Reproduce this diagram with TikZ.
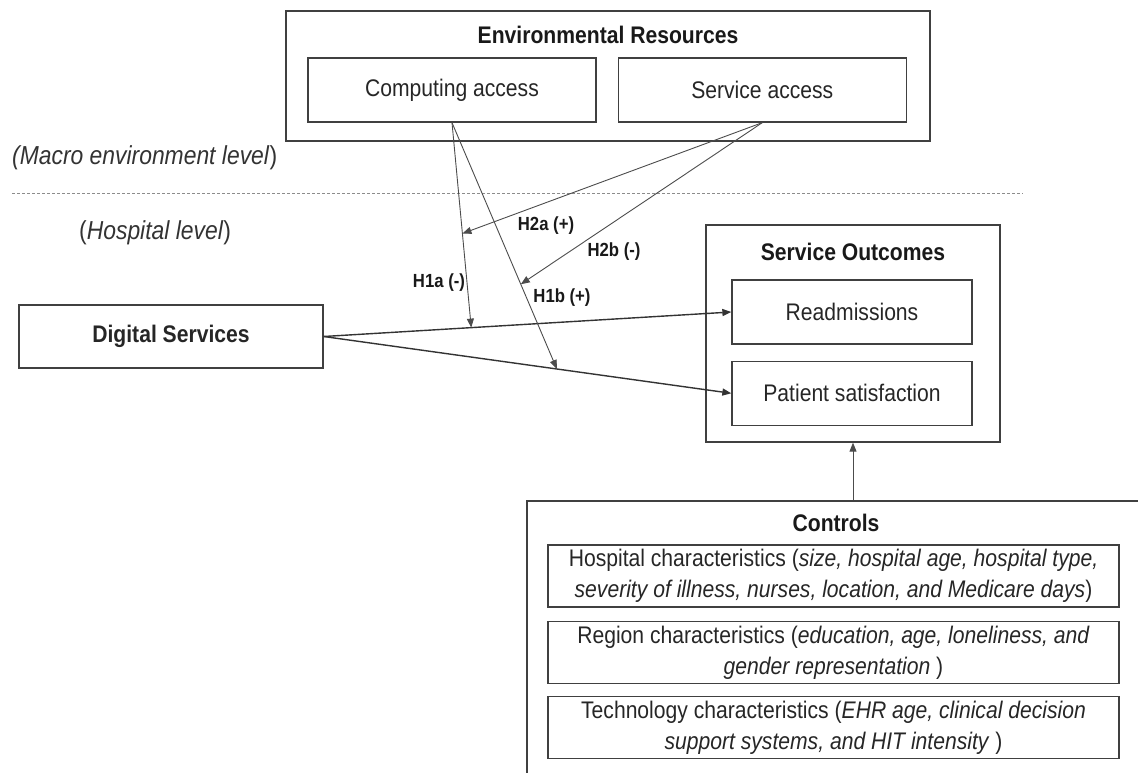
\documentclass[tikz,border=0pt]{standalone}
\usepackage{fontspec}
\setmainfont{Liberation Sans}[FakeStretch=0.88]
\usetikzlibrary{positioning,arrows.meta}

\begin{document}
\begin{tikzpicture}[x=1pt, y=-1pt,
    outer/.style={rectangle, draw=black!75, line width=1.3pt},
    box/.style={rectangle, draw=black!75, line width=1.3pt, font=\fontsize{24}{30}\selectfont, text=black!85, align=center, inner sep=0pt},
    ctrlbox/.style={box, minimum width=571pt, minimum height=62pt, font=\fontsize{24}{31}\selectfont},
    title/.style={font=\fontsize{24}{30}\selectfont\bfseries, text=black!90, inner sep=0pt},
    level/.style={font=\fontsize{26}{30}\selectfont, text=black!80, inner sep=0pt},
    hlab/.style={font=\fontsize{19}{22}\selectfont\bfseries, text=black!90, inner sep=0pt},
    arrow/.style={-{Triangle[length=9pt,width=7pt]}, line width=1.4pt, draw=black!80},
    harrow/.style={-{Triangle[length=9pt,width=7pt]}, line width=0.9pt, draw=black!70},
    levelline/.style={draw=black!45, line width=0.8pt, dash pattern=on 3pt off 2pt},
  ]
  \useasboundingbox (0,0) rectangle (1138,773);
  \clip (0,0) rectangle (1138,773);
  % macro environment level
  \node [outer, minimum width=644pt, minimum height=130pt] (env) at (608,76) {};
  \node [title] (envtitle) at (608,35) {Environmental Resources};
  \node [box, minimum width=288pt, minimum height=64pt] (computing) at (452,90) {Computing access};
  \node [box, minimum width=288pt, minimum height=64pt, right=21pt of computing] (service) {Service access};
  \node [level, anchor=west] (macro) at (12,158) {\textit{(Macro environment level})};
  \draw [levelline] (12,193) -- (1023,193);
  % hospital level
  \node [level, anchor=west] (hosp) at (79,233) {(\textit{Hospital level})};
  \node [box, minimum width=304pt, minimum height=63pt, font=\fontsize{24}{30}\selectfont\bfseries] (digital) at (171,336.5) {Digital Services};
  \node [outer, minimum width=294pt, minimum height=217pt] (outcomes) at (853,333.5) {};
  \node [title] (outtitle) at (853,252) {Service Outcomes};
  \node [box, minimum width=240pt, minimum height=64pt] (readm) at (852,312) {Readmissions};
  \node [box, minimum width=240pt, minimum height=64pt, below=16pt of readm] (patient) {Patient satisfaction};
  % controls
  \node [outer, minimum width=613pt, minimum height=279pt] (controls) at (833.5,640.5) {};
  \node [title] (ctrltitle) at (836,523) {Controls};
  \node [ctrlbox] (hospchar) at (833.5,576) {Hospital characteristics (\textit{size, hospital age, hospital type,}\\\textit{severity of illness, nurses, location, and Medicare days})};
  \node [ctrlbox, below=13pt of hospchar] (regchar) {Region characteristics (\textit{education, age, loneliness, and}\\\textit{gender representation} )};
  \node [ctrlbox, below=12pt of regchar] (techchar) {Technology characteristics (\textit{EHR age, clinical decision}\\\textit{support systems, and HIT intensity} )};
  % hypotheses
  \node [hlab] (h2a) at (546,226) {H2a (+)};
  \node [hlab] (h2b) at (614,252) {H2b (-)};
  \node [hlab] (h1a) at (439,283) {H1a (-)};
  \node [hlab] (h1b) at (562,298) {H1b (+)};
  \draw [arrow] (digital.east) -- coordinate [pos=0.362] (t1a) (readm.west);
  \draw [arrow] (digital.east) -- coordinate [pos=0.572] (t1b) (patient.west);
  \draw [harrow] (computing.south) -- coordinate [pos=0.541] (t2a) (t1a);
  \draw [harrow] (computing.south) -- coordinate [pos=0.656] (t2b) (t1b);
  \draw [harrow] (service.south) -- (t2a);
  \draw [harrow] (service.south) -- (t2b);
  \draw [harrow] (outcomes.south |- controls.north) -- (outcomes.south);
\end{tikzpicture}
\end{document}
